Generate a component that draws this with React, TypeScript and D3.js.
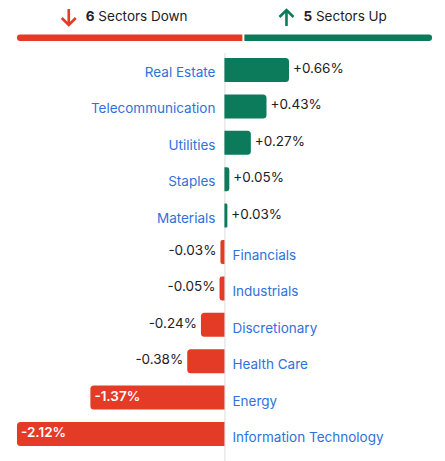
import { useEffect, useRef } from 'react';
import * as d3 from 'd3';

const sectors = [
  'Real Estate',
  'Telecommunication',
  'Utilities',
  'Staples',
  'Materials',
  'Financials',
  'Industrials',
  'Discretionary',
  'Health Care',
  'Energy',
  'Information Technology',
];
const changes = [0.66, 0.43, 0.27, 0.05, 0.03, -0.03, -0.05, -0.24, -0.38, -1.37, -2.12];

const headerLabels = ['Sectors Down', 'Sectors Up'];

const GREEN = '#0b7b5b';
const RED = '#e33b26';
const BLUE = '#2f72da';
const INK = '#1d2126';
const FS = 13.5;

// bar path with rounded corners on one end only
function halfRounded(x0: number, x1: number, y: number, h: number, r: number, right: boolean) {
  const w = x1 - x0;
  const rr = Math.min(r, w / 2, h / 2);
  if (right) {
    return `M${x0},${y}H${x1 - rr}Q${x1},${y} ${x1},${y + rr}V${y + h - rr}Q${x1},${y + h} ${x1 - rr},${y + h}H${x0}Z`;
  }
  return `M${x1},${y}H${x0 + rr}Q${x0},${y} ${x0},${y + rr}V${y + h - rr}Q${x0},${y + h} ${x0 + rr},${y + h}H${x1}Z`;
}

export default function App() {
  const svgRef = useRef<SVGSVGElement>(null);
  const width = 445;
  const height = 461;

  useEffect(() => {
    if (!svgRef.current) return;
    const svg = d3.select(svgRef.current);
    svg.selectAll('*').remove();

    const font = 'Inter, "Noto Sans", sans-serif';

    const x = d3.scaleLinear()
      .domain([d3.min(changes)!, d3.max(changes)!])
      .range([17, 289]);
    const x0 = x(0);

    const y = d3.scaleBand<string>()
      .domain(sectors)
      .range([51.8, 452.2])
      .paddingInner(0.34)
      .paddingOuter(0.17);

    // === header: up / down split ===
    const downCount = changes.filter((d) => d < 0).length;
    const upCount = changes.filter((d) => d > 0).length;
    const split = d3.scaleLinear()
      .domain([0, downCount + upCount])
      .range([17, 432]);

    const segs = [
      { from: 0, to: downCount, color: RED, count: downCount, label: headerLabels[0], up: false },
      { from: downCount, to: downCount + upCount, color: GREEN, count: upCount, label: headerLabels[1], up: true },
    ];

    segs.forEach((s, i) => {
      const a = split(s.from) + (i === 0 ? 0 : 1);
      const b = split(s.to) - (i === 0 ? 1 : 0);
      svg.append('path')
        .attr('d', halfRounded(a, b, 34.5, 6.5, 3, i !== 0))
        .attr('fill', s.color);

      const g = svg.append('g');
      // arrow
      const arrow = g.append('g').attr('fill', 'none').attr('stroke', s.color)
        .attr('stroke-width', 2.6).attr('stroke-linecap', 'butt');
      if (s.up) {
        arrow.append('path').attr('d', 'M0,26V11');
        arrow.append('path').attr('d', 'M-7,17L0,10L7,17');
      } else {
        arrow.append('path').attr('d', 'M0,9V24');
        arrow.append('path').attr('d', 'M-7,18L0,25L7,18');
      }
      const t = g.append('text')
        .attr('x', 17)
        .attr('y', 21)
        .attr('font-family', font)
        .attr('font-size', FS)
        .attr('fill', INK);
      t.append('tspan').attr('font-weight', 700).text(String(s.count));
      t.append('tspan').text(' ' + s.label);

      const bb = (g.node() as SVGGElement).getBBox();
      const cx = (a + b) / 2 - 5;
      g.attr('transform', `translate(${cx - bb.width / 2 - bb.x},0)`);
    });

    // === zero axis ===
    svg.append('line')
      .attr('x1', x0 + 0.5).attr('x2', x0 + 0.5)
      .attr('y1', 53).attr('y2', height)
      .attr('stroke', '#dcdcdc')
      .attr('stroke-width', 1);

    // === bars ===
    sectors.forEach((name, i) => {
      const v = changes[i];
      const top = y(name)!;
      const h = y.bandwidth();
      const mid = top + h / 2;
      const pos = v >= 0;
      const xv = x(v);
      const label = `${pos ? '+' : ''}${v.toFixed(2)}%`;

      if (pos) {
        const right = Math.max(xv, x0 + 2);
        svg.append('path')
          .attr('d', halfRounded(x0, right, top, h, 3.5, true))
          .attr('fill', GREEN);
        svg.append('text')
          .attr('x', x0 - 9).attr('y', mid + 2)
          .attr('text-anchor', 'end').attr('dominant-baseline', 'central')
          .attr('font-family', font).attr('font-size', FS).attr('fill', BLUE)
          .text(name);
        svg.append('text')
          .attr('x', right + 4).attr('y', mid - 2)
          .attr('dominant-baseline', 'central')
          .attr('font-family', font).attr('font-size', FS).attr('fill', INK)
          .text(label);
      } else {
        const left = Math.min(xv, x0 - 4);
        svg.append('path')
          .attr('d', halfRounded(left, x0, top, h, 3.5, false))
          .attr('fill', RED);
        svg.append('text')
          .attr('x', x0 + 8).attr('y', mid + 3)
          .attr('dominant-baseline', 'central')
          .attr('font-family', font).attr('font-size', FS).attr('fill', BLUE)
          .text(name);
        const inside = x0 - left > 70;
        svg.append('text')
          .attr('x', inside ? left + 4 : left - 4)
          .attr('y', mid - 2)
          .attr('text-anchor', inside ? 'start' : 'end')
          .attr('dominant-baseline', 'central')
          .attr('font-family', font).attr('font-size', FS)
          .attr('font-weight', inside ? 600 : 400)
          .attr('fill', inside ? '#ffffff' : INK)
          .text(label);
      }
    });
  }, []);

  return (
    <svg
      ref={svgRef}
      width={width}
      height={height}
      style={{ position: 'absolute', left: 0, top: 0, background: '#fff' }}
    />
  );
}
